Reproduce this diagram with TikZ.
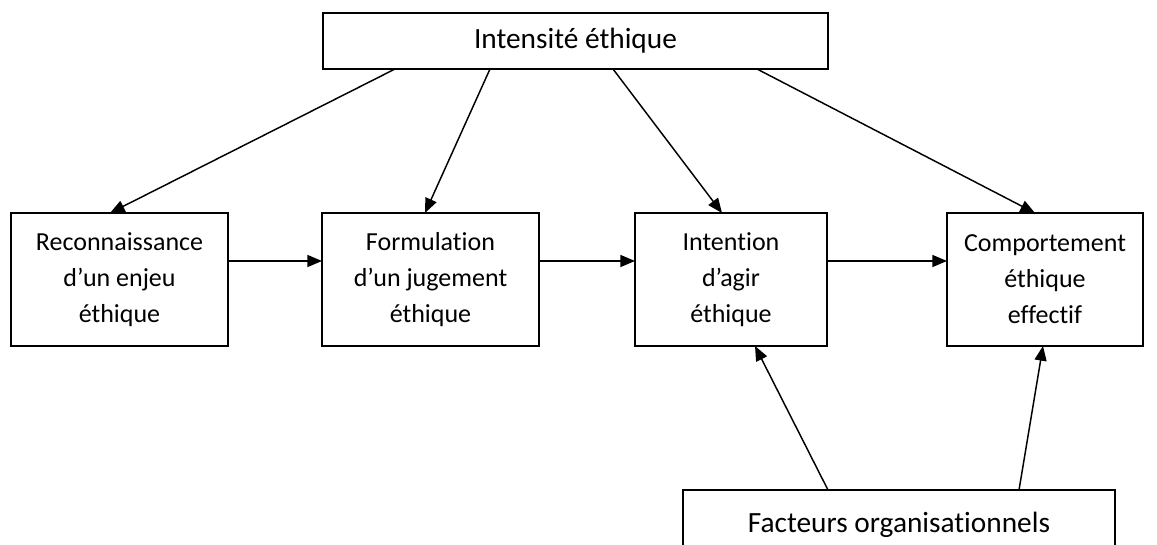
\documentclass[tikz,border=0pt]{standalone}
\usepackage{fontspec}
\setmainfont{Carlito}[RawFeature=-liga]
\usetikzlibrary{arrows.meta,calc}
\begin{document}
\begin{tikzpicture}[x=0.75pt,y=-0.75pt,
  box/.style={draw,line width=1.4pt,inner sep=0pt,outer sep=0pt,align=center,
    font=\fontsize{19.5}{27}\selectfont},
  big/.style={font=\fontsize{22}{27}\selectfont},
  arr/.style={line width=1.1pt,-{Triangle[length=11pt,width=9pt]}}]
\useasboundingbox (0,0) rectangle (1157,545);
\clip (0,0) rectangle (1157,545);
\fill[white] (0,0) rectangle (1157,545);
\node[box,big,minimum width=378.75pt,minimum height=42pt] (top) at (575.5,41) {Intensité éthique};
\node[box,minimum width=162.75pt,minimum height=99.75pt] (b1) at (119.5,279.5) {Reconnaissance\\d’un enjeu\\éthique};
\node[box,minimum width=162.75pt,minimum height=99.75pt] (b2) at (430.5,279.5) {Formulation\\d’un jugement\\éthique};
\node[box,minimum width=144pt,minimum height=99.75pt] (b3) at (731,279.5) {Intention\\d’agir\\éthique};
\node[box,minimum width=147pt,minimum height=99.75pt] (b4) at (1045,279.5) {Comportement\\éthique\\effectif};
\node[box,big,minimum width=324pt,minimum height=52.5pt] (bot) at (899,525) {Facteurs organisationnels};
% from top
\draw[arr] ($(top.south west)+(72,0)$) -- ($(b1.north west)+(99,0)$);
\draw[arr] ($(top.south west)+(167,0)$) -- ($(b2.north west)+(103,0)$);
\draw[arr] ($(top.south west)+(290,0)$) -- ($(b3.north west)+(87,0)$);
\draw[arr] ($(top.south west)+(434,0)$) -- ($(b4.north west)+(88,0)$);
% horizontal
\draw[arr] ($(b1.north east)+(0,48)$) -- ($(b2.north west)+(0,48)$);
\draw[arr] ($(b2.north east)+(0,48)$) -- ($(b3.north west)+(0,48)$);
\draw[arr] ($(b3.north east)+(0,48)$) -- ($(b4.north west)+(0,48)$);
% from bottom
\draw[arr] ($(bot.north west)+(145,0)$) -- ($(b3.south west)+(120,0)$);
\draw[arr] ($(bot.north west)+(336,0)$) -- ($(b4.south west)+(96,0)$);
\end{tikzpicture}
\end{document}
